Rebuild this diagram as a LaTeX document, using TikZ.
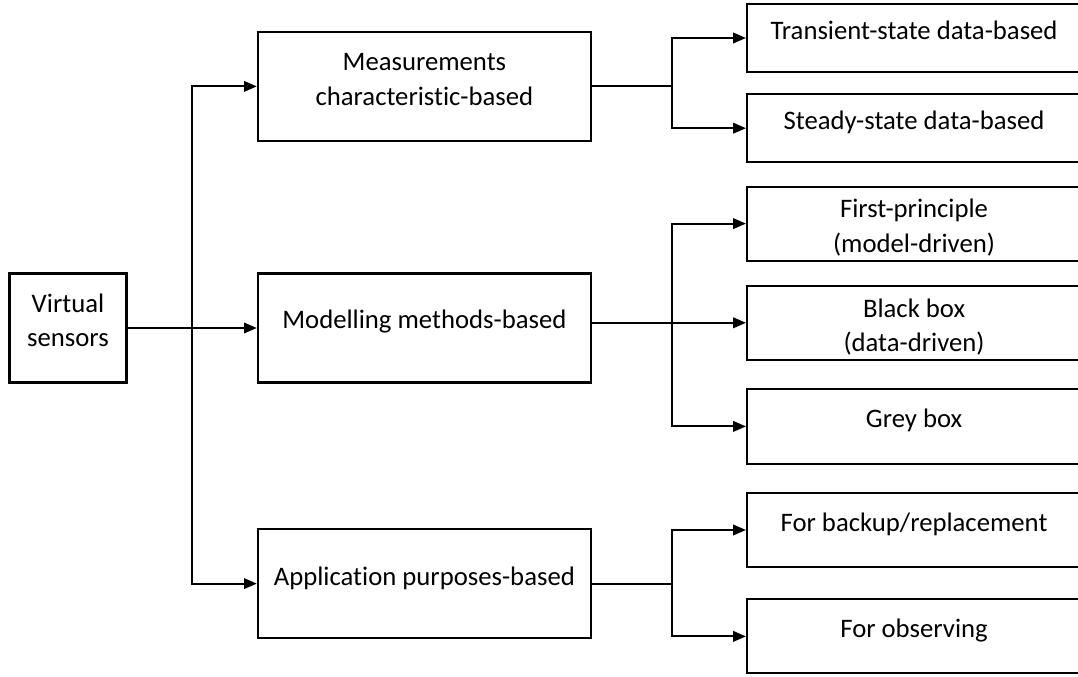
\documentclass[tikz,border=0pt]{standalone}
\usepackage{fontspec}
\setmainfont{Carlito}[Ligatures=NoCommon]
\usetikzlibrary{arrows.meta,calc,positioning}
\newcommand{\lo}[1]{\rule[-#1]{0pt}{#1}}
\newcommand{\hi}[1]{\rule{0pt}{#1}}

\begin{document}
\begin{tikzpicture}[
    box/.style={draw, line width=1.5pt, align=center, inner sep=0pt,
      font=\fontsize{19}{24.5}\selectfont},
    midbox/.style={box, minimum width=8.325cm, minimum height=2.725cm},
    leafbox/.style={box, anchor=west, minimum width=8.35cm},
    link/.style={line width=1.5pt},
    arr/.style={link, -{Triangle[length=0.32cm,width=0.26cm]}}
  ]
  \useasboundingbox (0,0) rectangle (26.95,-16.925);
  \def\mx{10.61}
  \def\lx{18.65}
  \def\bx{16.81}

  % root and the three groups
  \node[box, minimum width=2.925cm, minimum height=2.725cm] (vs) at (1.70,-8.2) {Virtual\\sensors\lo{11.4pt}};
  \node[midbox] (meas) at (\mx,-2.16) {Measurements\\characteristic-based\lo{10pt}};
  \node[midbox] (model) at (\mx,-8.2) {Modelling methods-based\lo{12pt}};
  \node[midbox] (appl) at (\mx,-14.59) {Application purposes-based\lo{11pt}};

  % leaves
  \node[leafbox, minimum height=1.69cm] (trans) at (\lx,-0.95) {Transient-state data-based\lo{11pt}};
  \node[leafbox, minimum height=1.69cm] (steady) at (\lx,-3.205) {Steady-state data-based\lo{11pt}};
  \node[leafbox, minimum height=1.85cm] (first) at (\lx,-5.59) {\hi{19pt}First-principle\\(model-driven)};
  \node[leafbox, minimum height=1.86cm] (black) at (\lx,-8.07) {\hi{19pt}Black box\\(data-driven)};
  \node[leafbox, minimum height=1.86cm] (grey) at (\lx,-10.66) {Grey box\lo{11pt}};
  \node[leafbox, minimum height=1.865cm] (backup) at (\lx,-13.25) {For backup/replacement\lo{11pt}};
  \node[leafbox, minimum height=1.85cm] (observ) at (\lx,-15.91) {For observing\lo{11pt}};

  \coordinate (trunk) at (4.8,-8.2);
  \coordinate (b1) at (\bx,-2.16);
  \coordinate (b2) at (\bx,-8.07);
  \coordinate (b3) at (\bx,-14.59);

  % root to groups
  \draw[arr] (vs.east) -- (model.west);
  \draw[arr] (trunk) |- (meas.west);
  \draw[arr] (trunk) |- (appl.west);

  % groups to leaves
  \draw[link] (meas.east) -- (b1);
  \draw[arr] (b1) |- (trans.west);
  \draw[arr] (b1) |- (steady.west);

  \draw[arr] (model.east |- black.west) -- (black.west);
  \draw[arr] (b2) |- (first.west);
  \draw[arr] (b2) |- (grey.west);

  \draw[link] (appl.east) -- (b3);
  \draw[arr] (b3) |- (backup.west);
  \draw[arr] (b3) |- (observ.west);
\end{tikzpicture}
\end{document}
